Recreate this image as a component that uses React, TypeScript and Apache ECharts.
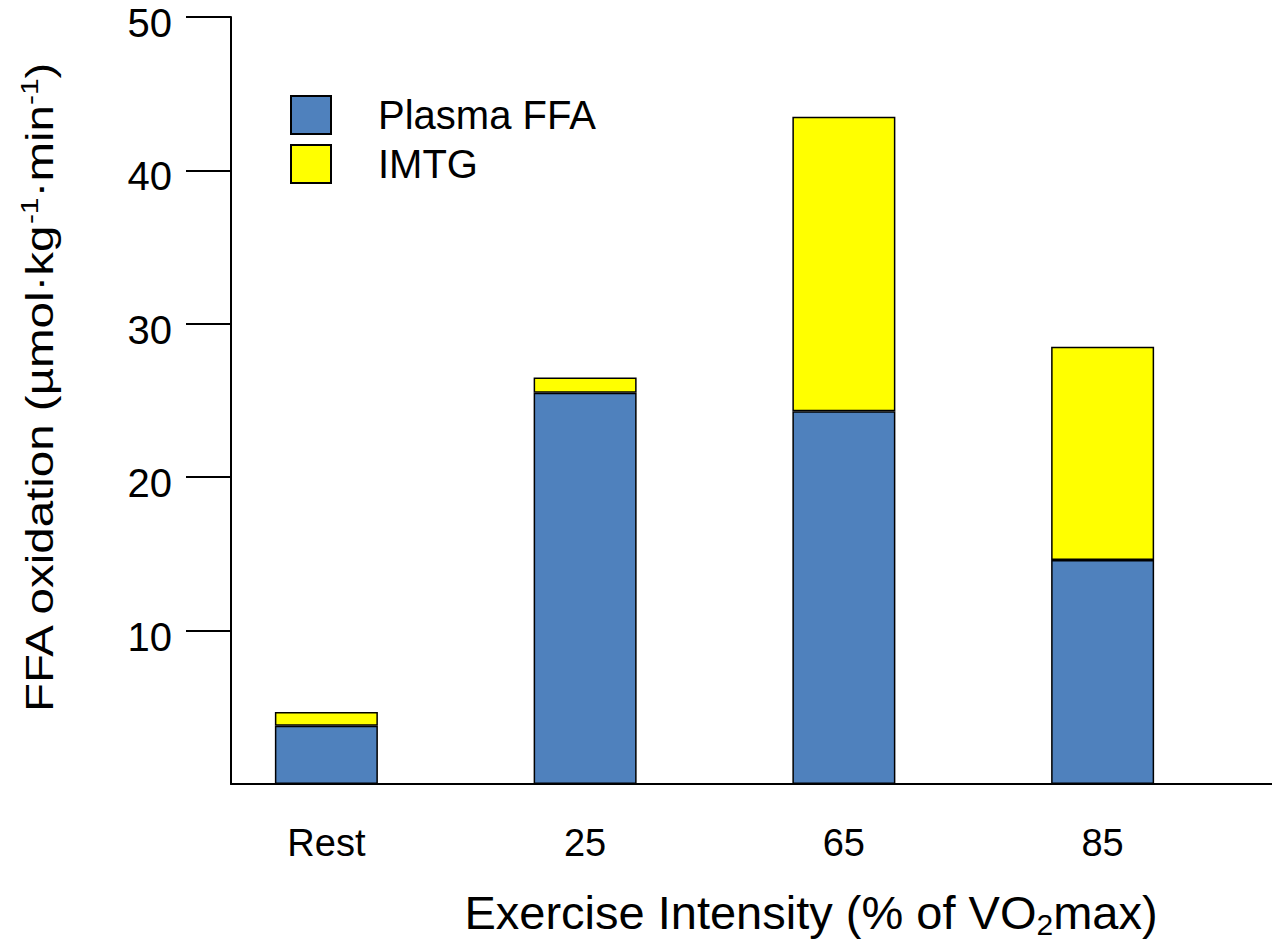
import React, { useEffect, useRef } from 'react';
import * as echarts from 'echarts';

const categories = ['Rest', '25', '65', '85'];
const seriesNames = ['Plasma FFA', 'IMTG'];
const plasmaFFA = [3.8, 25.5, 24.3, 14.6];
const imtg = [0.9, 1.0, 19.2, 13.9];
const yTicks = [10, 20, 30, 40, 50];
const yTitle = '{a|FFA oxidation (µmol·kg}{s|-1}{a|·min}{s|-1}{a|)}';
const xTitle = '{a|Exercise Intensity (% of VO}{b|2}{a|max)}';

export default function App() {
  const ref = useRef<HTMLDivElement>(null);
  useEffect(() => {
    document.body.style.margin = '0';
    const chart = echarts.init(ref.current!, null, { renderer: 'svg' });
    const font = "'Liberation Sans', Arial, Helvetica, sans-serif";
    chart.setOption({
      animation: false,
      textStyle: { fontFamily: font, color: '#000' },
      grid: [
        { left: 231, right: 0, top: 17, bottom: 159 },
        { left: 197, right: 40, top: 17, bottom: 159 },
      ],
      legend: {
        data: seriesNames,
        orient: 'vertical',
        left: 290,
        top: 95,
        padding: 0,
        icon: 'rect',
        itemWidth: 40,
        itemHeight: 38,
        itemGap: 9,
        textStyle: { fontSize: 40, color: '#000', fontFamily: font, padding: [0, 0, 0, 42] },
      },
      xAxis: [
        {
          gridIndex: 0,
          type: 'category',
          data: [''],
          axisLine: { show: true, lineStyle: { color: '#000', width: 2 } },
          axisTick: { show: false },
          axisLabel: { show: false },
        },
        {
          gridIndex: 1,
          type: 'category',
          data: categories,
          axisLine: { show: false },
          axisTick: { show: false },
          axisLabel: { color: '#000', fontSize: 38, margin: 40, fontFamily: font },
        },
      ],
      yAxis: [
        {
          gridIndex: 0,
          type: 'value',
          min: 0,
          max: 50,
          interval: 10,
          splitLine: { show: false },
          axisLine: { show: true, lineStyle: { color: '#000', width: 2 } },
          axisTick: { show: true, length: 45, customValues: yTicks, lineStyle: { color: '#000', width: 2 } },
          axisLabel: {
            customValues: yTicks,
            margin: 59,
            formatter: '{v|{value}}',
            rich: {
              v: { fontSize: 40, color: '#000', fontFamily: font, padding: [12, 0, 0, 0] },
            },
          },
        },
        { gridIndex: 1, type: 'value', min: 0, max: 50, show: false },
      ],
      series: [
        {
          name: seriesNames[0],
          type: 'bar',
          stack: 'total',
          xAxisIndex: 1,
          yAxisIndex: 1,
          data: plasmaFFA,
          barWidth: 103,
          itemStyle: { color: '#4F81BD', borderColor: '#000', borderWidth: 1.5 },
        },
        {
          name: seriesNames[1],
          type: 'bar',
          stack: 'total',
          xAxisIndex: 1,
          yAxisIndex: 1,
          data: imtg,
          barWidth: 103,
          itemStyle: { color: '#FFFF00', borderColor: '#000', borderWidth: 1.5 },
        },
      ],
      graphic: [
        {
          type: 'text',
          x: 40,
          y: 388,
          rotation: Math.PI / 2,
          scaleX: 1.25,
          style: {
            text: yTitle,
            align: 'center',
            verticalAlign: 'middle',
            fill: '#000',
            rich: {
              a: { fontSize: 38, fontFamily: font, fill: '#000', lineHeight: 44 },
              s: { fontSize: 24, fontFamily: font, fill: '#000', lineHeight: 24, verticalAlign: 'top' },
            },
          },
        },
        {
          type: 'text',
          x: 811,
          y: 912,
          style: {
            text: xTitle,
            align: 'center',
            verticalAlign: 'middle',
            fill: '#000',
            rich: {
              a: { fontSize: 47, fontFamily: font, fill: '#000', lineHeight: 54 },
              b: { fontSize: 30, fontFamily: font, fill: '#000', lineHeight: 30, verticalAlign: 'bottom' },
            },
          },
        },
      ],
    });
    return () => chart.dispose();
  }, []);
  return <div ref={ref} style={{ width: 1272, height: 943 }} />;
}
